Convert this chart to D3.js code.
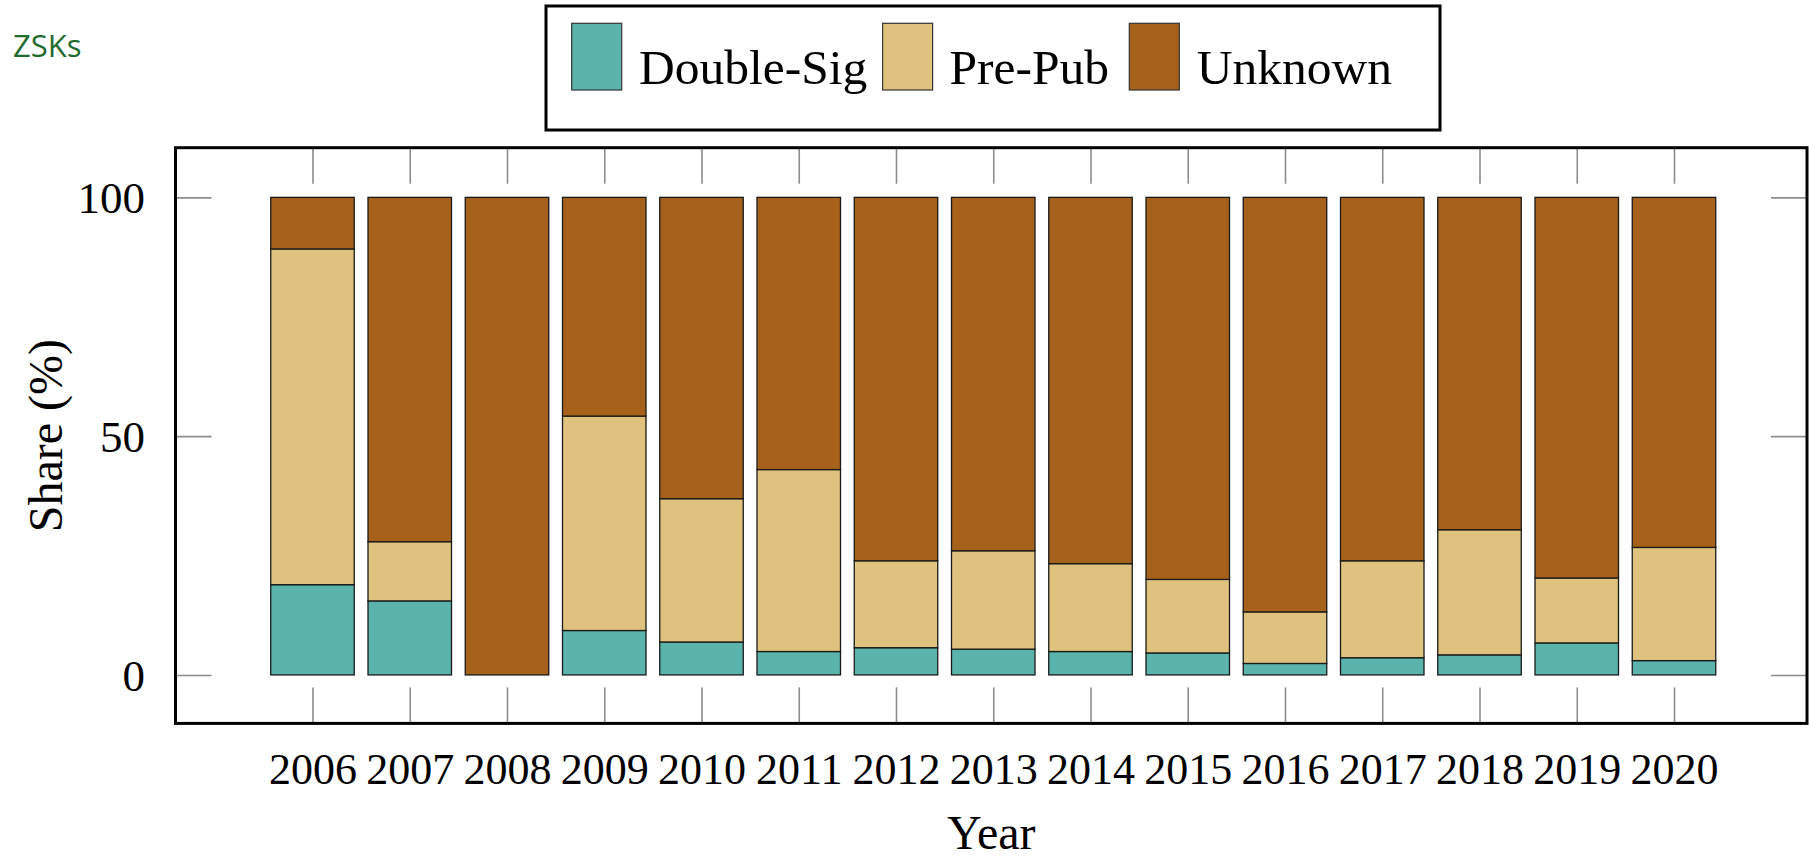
<!DOCTYPE html>
<html>
<head>
<meta charset="utf-8">
<script src="https://cdn.jsdelivr.net/npm/d3@7"></script>
<style>
  html, body { margin: 0; padding: 0; background: #fff; }
  svg { display: block; }
  .serif { font-family: "Liberation Serif", "DejaVu Serif", serif; }
</style>
</head>
<body>
<svg id="chart" width="1809" height="861"></svg>
<script>
// ---- data ----
const years = ["2006","2007","2008","2009","2010","2011","2012","2013","2014","2015","2016","2017","2018","2019","2020"];
const seriesNames = ["Double-Sig", "Pre-Pub", "Unknown"];
const doubleSig = [18.9, 15.5, 0.0, 9.3, 6.9, 4.9, 5.7, 5.4, 4.9, 4.6, 2.4, 3.6, 4.2, 6.7, 3.0];
const prePub    = [70.3, 12.4, 0.0, 44.9, 30.0, 38.1, 18.2, 20.6, 18.4, 15.4, 10.8, 20.3, 26.2, 13.6, 23.7];
const unknown   = [10.8, 72.1, 100.0, 45.8, 63.1, 57.0, 76.1, 74.0, 76.7, 80.0, 86.8, 76.1, 69.6, 79.7, 73.3];
const yTicks = [0, 50, 100];
const colors = ["#5ab4ac", "#dfc27d", "#a6611a"];

// ---- layout ----
const svg = d3.select("#chart");
const frame = { left: 175.5, right: 1807, top: 147.7, bottom: 723.4 };
const tickLen = 36;

const x = d3.scalePoint().domain(years).range([312.5, 1674]);
const barW = 83.5;
const y = d3.scaleLinear().domain([-10.15, 110.4]).range([frame.bottom, frame.top]);

const table = years.map((yr, i) => ({ year: yr, "Double-Sig": doubleSig[i], "Pre-Pub": prePub[i], "Unknown": unknown[i] }));
const stacked = d3.stack().keys(seriesNames)(table);

// ticks (drawn under bars)
const tickColor = "#8c8c8c";
function styleAxis(g) {
  g.select(".domain").remove();
  g.selectAll(".tick line").attr("stroke", tickColor).attr("stroke-width", 1.6);
}

// bottom axis with labels
svg.append("g").attr("transform", `translate(0,${frame.bottom})`)
  .call(d3.axisBottom(x).tickSize(-tickLen).tickPadding(29))
  .call(styleAxis)
  .call(g => g.selectAll("text").attr("class", "serif").attr("font-size", 44).attr("fill", "#000"));
// top axis no labels
svg.append("g").attr("transform", `translate(0,${frame.top})`)
  .call(d3.axisTop(x).tickSize(-tickLen).tickFormat(""))
  .call(styleAxis);
// left axis with labels
svg.append("g").attr("transform", `translate(${frame.left},0)`)
  .call(d3.axisLeft(y).tickValues(yTicks).tickSize(-tickLen).tickPadding(30.5))
  .call(styleAxis)
  .call(g => g.selectAll("text").attr("class", "serif").attr("font-size", 45).attr("fill", "#000").attr("dy", "0.34em"));
// right axis no labels
svg.append("g").attr("transform", `translate(${frame.right},0)`)
  .call(d3.axisRight(y).tickValues(yTicks).tickSize(-tickLen).tickFormat(""))
  .call(styleAxis);

// bars
const layers = svg.append("g").selectAll("g").data(stacked).join("g")
  .attr("fill", (d, i) => colors[i]);
layers.selectAll("rect").data(d => d.filter(s => s[1] - s[0] > 0)).join("rect")
  .attr("x", d => x(d.data.year) - barW / 2)
  .attr("width", barW)
  .attr("y", d => y(d[1]))
  .attr("height", d => y(d[0]) - y(d[1]))
  .attr("stroke", "#1a1a1a")
  .attr("stroke-width", 1.3);

// frame
svg.append("rect")
  .attr("x", frame.left).attr("y", frame.top)
  .attr("width", frame.right - frame.left).attr("height", frame.bottom - frame.top)
  .attr("fill", "none").attr("stroke", "#000").attr("stroke-width", 3);

// axis titles
svg.append("text").attr("class", "serif")
  .attr("x", (frame.left + frame.right) / 2).attr("y", 849)
  .attr("text-anchor", "middle").attr("font-size", 48).attr("fill", "#000")
  .text("Year");
svg.append("text").attr("class", "serif")
  .attr("transform", `translate(62,${(frame.top + frame.bottom) / 2}) rotate(-90)`)
  .attr("text-anchor", "middle").attr("font-size", 48).attr("fill", "#000")
  .text("Share (%)");

// legend
const legend = svg.append("g");
legend.append("rect")
  .attr("x", 546).attr("y", 6).attr("width", 1440 - 546).attr("height", 124)
  .attr("fill", "#fff").attr("stroke", "#000").attr("stroke-width", 3);
const swatchX = [571.7, 882.6, 1129.3];
const textX = [639, 949.5, 1196.7];
seriesNames.forEach((name, i) => {
  legend.append("rect")
    .attr("x", swatchX[i]).attr("y", 23.3).attr("width", 50).attr("height", 66.7)
    .attr("fill", colors[i]).attr("stroke", "#333").attr("stroke-width", 1.2);
  legend.append("text").attr("class", "serif")
    .attr("x", textX[i]).attr("y", 84)
    .attr("font-size", 49.5).attr("fill", "#000")
    .text(name);
});

// corner label
svg.append("text")
  .attr("x", 13).attr("y", 57)
  .attr("font-family", "'Open Sans', 'Noto Sans', sans-serif")
  .attr("font-size", 31).attr("fill", "#1f6b2d")
  .text("ZSKs");
</script>
</body>
</html>
